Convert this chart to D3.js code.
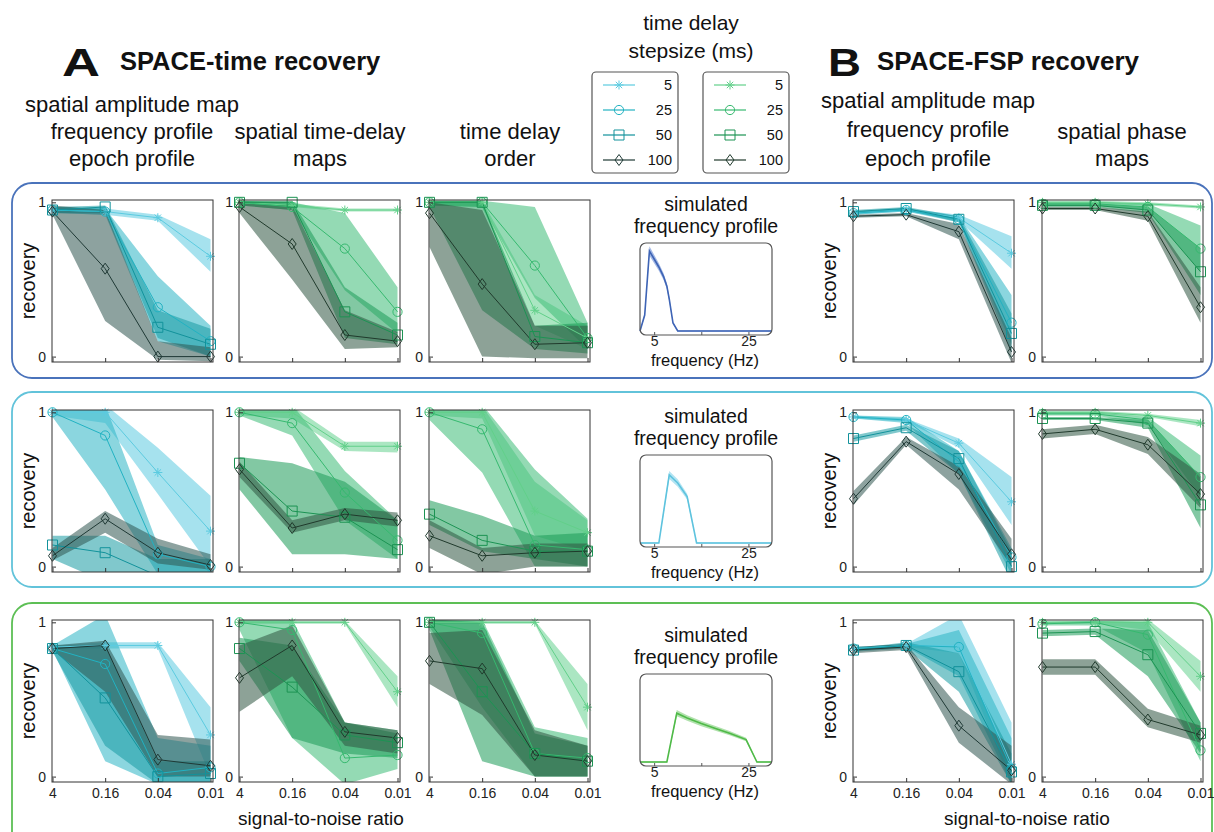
<!DOCTYPE html>
<html>
<head>
<meta charset="utf-8">
<script src="https://cdn.jsdelivr.net/npm/d3@7"></script>
<style>
  body { margin: 0; background: #fff; }
  svg { display: block; font-family: "Liberation Sans", Arial, sans-serif; }
</style>
</head>
<body>
<div id="chart"></div>
<script>
// x categories and legend
var snrLabels = ['4', '0.16', '0.04', '0.01'];
var stepsizes = ['5', '25', '50', '100'];
var markerTypes = ['asterisk', 'circle', 'square', 'diamond'];

var cyanLines = ['#5ccbe0', '#22b2c2', '#12929b', '#1f3935'];
var cyanFills = ['#5ccbe0', '#2bb5c4', '#189aa2', '#2f5550'];
var greenLines = ['#62d08a', '#36b96f', '#1c9353', '#203a2c'];
var greenFills = ['#66d18f', '#3dbb76', '#1c9a58', '#2f5542'];

// ---- condition 1 (blue box) ----
var amp1Mean = [[0.95, 0.94, 0.90, 0.65], [0.95, 0.94, 0.32, 0.10], [0.95, 0.97, 0.19, 0.08], [0.94, 0.57, 0.0, 0.0]];
var amp1Lo   = [[0.93, 0.92, 0.88, 0.55], [0.93, 0.92, 0.10, 0.0], [0.93, 0.93, 0.12, 0.0], [0.92, 0.23, -0.02, -0.03]];
var amp1Hi   = [[0.97, 0.96, 0.92, 0.76], [0.97, 0.96, 0.52, 0.20], [0.97, 0.98, 0.30, 0.18], [0.98, 0.95, 0.10, 0.06]];

var tdm1Mean = [[1.0, 0.98, 0.95, 0.95], [1.0, 0.97, 0.70, 0.29], [1.0, 1.0, 0.29, 0.14], [0.97, 0.73, 0.14, 0.10]];
var tdm1Lo   = [[0.99, 0.97, 0.94, 0.94], [0.98, 0.95, 0.43, 0.15], [0.98, 0.95, 0.12, 0.08], [0.93, 0.50, 0.05, 0.06]];
var tdm1Hi   = [[1.01, 0.99, 0.96, 0.96], [1.01, 1.0, 0.93, 0.45], [1.01, 1.01, 0.45, 0.22], [0.99, 0.98, 0.30, 0.16]];

var tdo1Mean = [[1.0, 1.0, 0.30, 0.12], [1.0, 1.0, 0.59, 0.12], [1.0, 1.0, 0.13, 0.09], [0.93, 0.47, 0.08, 0.09]];
var tdo1Lo   = [[0.98, 0.97, 0.20, 0.05], [0.98, 0.97, 0.38, 0.05], [0.97, 0.30, 0.05, 0.02], [0.71, 0.0, -0.01, -0.01]];
var tdo1Hi   = [[1.01, 1.01, 0.40, 0.20], [1.01, 1.01, 0.97, 0.22], [1.01, 1.01, 0.20, 0.22], [1.0, 0.95, 0.20, 0.20]];

var fsp1Mean = [[0.93, 0.95, 0.90, 0.67], [0.93, 0.95, 0.89, 0.22], [0.94, 0.96, 0.89, 0.15], [0.91, 0.92, 0.81, 0.03]];
var fsp1Lo   = [[0.92, 0.94, 0.88, 0.57], [0.92, 0.94, 0.87, 0.08], [0.93, 0.95, 0.87, 0.03], [0.90, 0.91, 0.76, -0.04]];
var fsp1Hi   = [[0.94, 0.96, 0.92, 0.78], [0.94, 0.96, 0.91, 0.40], [0.95, 0.97, 0.91, 0.28], [0.92, 0.93, 0.86, 0.12]];

var pha1Mean = [[1.0, 1.0, 0.99, 0.97], [0.99, 0.99, 0.97, 0.70], [0.98, 0.98, 0.95, 0.55], [0.96, 0.96, 0.91, 0.32]];
var pha1Lo   = [[0.99, 0.99, 0.98, 0.96], [0.98, 0.98, 0.95, 0.55], [0.97, 0.97, 0.93, 0.40], [0.95, 0.95, 0.88, 0.22]];
var pha1Hi   = [[1.01, 1.01, 1.0, 0.98], [1.0, 1.0, 0.99, 0.85], [0.99, 0.99, 0.97, 0.70], [0.97, 0.97, 0.94, 0.45]];

// ---- condition 2 (light blue box) ----
var amp2Mean = [[1.0, 1.0, 0.61, 0.23], [1.0, 0.85, 0.08, 0.0], [0.14, 0.09, -0.06, -0.06], [0.07, 0.31, 0.09, 0.01]];
var amp2Lo   = [[0.98, 0.93, 0.47, 0.0], [0.97, 0.50, -0.05, -0.05], [0.05, -0.1, -0.1, -0.1], [0.04, 0.22, 0.02, -0.02]];
var amp2Hi   = [[1.02, 1.05, 0.77, 0.46], [1.02, 1.05, 0.14, 0.05], [0.20, 0.20, 0.05, 0.05], [0.12, 0.36, 0.18, 0.08]];

var tdm2Mean = [[1.0, 1.0, 0.78, 0.78], [1.0, 0.93, 0.48, 0.17], [0.67, 0.36, 0.32, 0.11], [0.63, 0.25, 0.34, 0.30]];
var tdm2Lo   = [[0.98, 0.96, 0.75, 0.74], [0.98, 0.85, 0.30, 0.05], [0.50, 0.08, 0.08, 0.05], [0.58, 0.22, 0.30, 0.26]];
var tdm2Hi   = [[1.02, 1.04, 0.81, 0.81], [1.02, 1.05, 0.62, 0.30], [0.71, 0.67, 0.55, 0.30], [0.68, 0.30, 0.38, 0.35]];

var tdo2Mean = [[1.0, 1.0, 0.36, 0.22], [1.0, 0.89, 0.14, 0.11], [0.34, 0.17, 0.10, 0.10], [0.20, 0.07, 0.09, 0.10]];
var tdo2Lo   = [[0.98, 0.96, 0.20, 0.10], [0.95, 0.61, 0.0, 0.0], [0.27, 0.10, 0.05, 0.0], [0.12, -0.05, 0.0, 0.0]];
var tdo2Hi   = [[1.02, 1.04, 0.55, 0.30], [1.05, 1.05, 0.63, 0.31], [0.43, 0.33, 0.20, 0.22], [0.30, 0.12, 0.15, 0.15]];

var fsp2Mean = [[0.97, 0.95, 0.80, 0.42], [0.97, 0.95, 0.68, 0.06], [0.83, 0.90, 0.70, 0.0], [0.44, 0.81, 0.60, 0.08]];
var fsp2Lo   = [[0.96, 0.94, 0.77, 0.27], [0.96, 0.93, 0.60, -0.05], [0.81, 0.88, 0.60, -0.1], [0.40, 0.79, 0.50, 0.0]];
var fsp2Hi   = [[0.98, 0.96, 0.83, 0.58], [0.98, 0.97, 0.75, 0.12], [0.85, 0.92, 0.75, 0.10], [0.49, 0.84, 0.65, 0.18]];

var pha2Mean = [[1.0, 1.0, 0.98, 0.93], [0.99, 0.99, 0.95, 0.58], [0.96, 0.96, 0.93, 0.40], [0.86, 0.89, 0.79, 0.47]];
var pha2Lo   = [[0.99, 0.99, 0.97, 0.91], [0.98, 0.98, 0.92, 0.45], [0.95, 0.95, 0.90, 0.25], [0.83, 0.86, 0.73, 0.38]];
var pha2Hi   = [[1.01, 1.01, 0.99, 0.95], [1.0, 1.0, 0.97, 0.72], [0.97, 0.97, 0.95, 0.58], [0.89, 0.92, 0.84, 0.60]];

// ---- condition 3 (green box) ----
var amp3Mean = [[0.84, 0.85, 0.85, 0.27], [0.83, 0.73, 0.02, 0.06], [0.83, 0.51, 0.0, 0.02], [0.83, 0.85, 0.11, 0.07]];
var amp3Lo   = [[0.83, 0.83, 0.83, 0.0], [0.82, 0.10, -0.05, -0.05], [0.81, 0.20, -0.05, -0.05], [0.82, 0.55, 0.0, 0.0]];
var amp3Hi   = [[0.85, 0.87, 0.87, 0.45], [0.85, 1.05, 0.25, 0.20], [0.85, 0.85, 0.10, 0.10], [0.85, 0.88, 0.27, 0.24]];

var tdm3Mean = [[1.0, 1.0, 1.0, 0.55], [1.0, 0.95, 0.12, 0.14], [0.83, 0.58, 0.27, 0.22], [0.64, 0.85, 0.29, 0.25]];
var tdm3Lo   = [[0.99, 0.99, 0.99, 0.45], [0.95, 0.25, -0.05, 0.05], [0.75, 0.25, 0.15, 0.12], [0.42, 0.65, 0.20, 0.15]];
var tdm3Hi   = [[1.01, 1.01, 1.01, 0.65], [1.02, 1.02, 0.35, 0.30], [0.90, 0.85, 0.35, 0.28], [0.85, 0.98, 0.35, 0.30]];

var tdo3Mean = [[1.0, 1.0, 1.0, 0.45], [1.0, 0.93, 0.15, 0.12], [1.0, 0.55, 0.15, 0.10], [0.75, 0.70, 0.14, 0.10]];
var tdo3Lo   = [[0.99, 0.99, 0.99, 0.30], [0.97, 0.45, 0.0, 0.0], [0.95, 0.10, 0.0, 0.0], [0.60, 0.40, 0.0, 0.0]];
var tdo3Hi   = [[1.01, 1.01, 1.01, 0.60], [1.02, 1.02, 0.32, 0.25], [1.02, 1.0, 0.28, 0.20], [0.93, 0.95, 0.30, 0.20]];

var fsp3Mean = [[0.83, 0.85, 0.85, 0.08], [0.83, 0.85, 0.84, 0.05], [0.82, 0.85, 0.68, 0.03], [0.82, 0.84, 0.33, 0.04]];
var fsp3Lo   = [[0.82, 0.84, 0.80, -0.05], [0.82, 0.84, 0.65, -0.05], [0.81, 0.83, 0.55, -0.05], [0.80, 0.82, 0.22, -0.05]];
var fsp3Hi   = [[0.84, 0.86, 1.05, 0.35], [0.84, 0.86, 0.95, 0.25], [0.83, 0.87, 0.80, 0.15], [0.84, 0.86, 0.45, 0.20]];

var pha3Mean = [[1.0, 1.0, 1.0, 0.65], [0.99, 1.0, 0.92, 0.17], [0.93, 0.94, 0.79, 0.28], [0.71, 0.71, 0.37, 0.27]];
var pha3Lo   = [[0.99, 0.99, 0.95, 0.55], [0.98, 0.98, 0.80, 0.10], [0.91, 0.92, 0.65, 0.15], [0.66, 0.66, 0.32, 0.22]];
var pha3Hi   = [[1.01, 1.01, 1.02, 0.75], [1.0, 1.01, 1.0, 0.35], [0.95, 0.96, 0.95, 0.35], [0.76, 0.76, 0.44, 0.33]];

// simulated frequency profiles (Hz, amplitude)
var freq1 = [2, 3, 4, 5, 6, 7, 7.7, 8.2, 9, 10, 30];
var prof1 = [0.0, 0.2, 1.0, 0.90, 0.80, 0.68, 0.56, 0.40, 0.10, 0.0, 0.0];
var freq2 = [2, 6, 8.2, 10, 12, 14, 30];
var prof2 = [0.0, 0.0, 0.85, 0.75, 0.58, 0.0, 0.0];
var freq3 = [2, 7.7, 9.8, 12, 15, 18, 21, 24.5, 26.8, 30];
var prof3 = [0.0, 0.0, 0.61, 0.55, 0.48, 0.42, 0.36, 0.28, 0.0, 0.0];
var freqTicks = [5, 15, 25];
var freqTickLabels = ['5', '', '25'];

var svg = d3.select('#chart').append('svg').attr('width', 1214).attr('height', 832);

var colLeft = [52, 239, 429, 853, 1042];
var rowTop = [200, 410, 620];
var panelW = 161, panelH = 162;
var boxColors = ['#4a73bb', '#62c3da', '#5dbf55'];
var boxY = [[183, 378], [392, 587], [603, 870]];

// rounded boxes around each condition
boxY.forEach(function (b, i) {
    svg.append('rect')
        .attr('x', 12).attr('y', b[0])
        .attr('width', 1200).attr('height', b[1] - b[0])
        .attr('rx', 20)
        .attr('fill', 'none')
        .attr('stroke', boxColors[i])
        .attr('stroke-width', 1.8);
});

function markerPath(type) {
    if (type === 'asterisk') return 'M-4.5,0H4.5M0,-4.5V4.5M-3.2,-3.2L3.2,3.2M-3.2,3.2L3.2,-3.2';
    if (type === 'circle') return d3.symbol(d3.symbolCircle, Math.PI * 4.6 * 4.6)();
    if (type === 'square') return 'M-5,-5H5V5H-5Z';
    return 'M0,-5.5L4,0L0,5.5L-4,0Z';
}

function drawPanel(col, row, mean, lo, hi, lines, fills) {
    var g = svg.append('g')
        .attr('transform', 'translate(' + colLeft[col] + ',' + rowTop[row] + ')');
    var x = d3.scaleLinear().domain([0, 3]).range([0.5, 158.5]);
    var y = d3.scaleLinear().domain([-0.035, 1.015]).range([panelH, 0]);

    var clipId = 'clip' + row + col;
    g.append('clipPath').attr('id', clipId)
        .append('rect').attr('width', panelW).attr('height', panelH);
    var plot = g.append('g').attr('clip-path', 'url(#' + clipId + ')');

    var band = d3.area()
        .x(function (d, i) { return x(i); })
        .y0(function (d) { return y(d[0]); })
        .y1(function (d) { return y(d[1]); });
    var line = d3.line()
        .x(function (d, i) { return x(i); })
        .y(function (d) { return y(d); });

    // shaded ranges first
    for (var s = 0; s < 4; s++) {
        var pairs = lo[s].map(function (v, i) { return [v, hi[s][i]]; });
        plot.append('path')
            .attr('d', band(pairs))
            .attr('fill', fills[s])
            .attr('fill-opacity', 0.55);
    }
    // mean lines + markers
    for (var s = 0; s < 4; s++) {
        plot.append('path')
            .attr('d', line(mean[s]))
            .attr('fill', 'none')
            .attr('stroke', lines[s])
            .attr('stroke-width', 1);
        g.selectAll('.m' + s)
            .data(mean[s].map(function (v, i) { return [i, v]; })
                .filter(function (d) { return d[1] >= -0.035 && d[1] <= 1.015; }))
            .enter().append('path')
            .attr('transform', function (d) { return 'translate(' + x(d[0]) + ',' + y(d[1]) + ')'; })
            .attr('d', markerPath(markerTypes[s]))
            .attr('fill', 'none')
            .attr('stroke', lines[s])
            .attr('stroke-width', 1);
    }

    // axes
    var xAxis = d3.axisBottom(x).tickValues([0, 1, 2, 3])
        .tickSizeInner(-4).tickSizeOuter(0).tickPadding(6)
        .tickFormat(function (d) { return row === 2 ? snrLabels[d] : ''; });
    var gx = g.append('g').attr('transform', 'translate(0,' + panelH + ')').call(xAxis);
    var yAxis = d3.axisLeft(y).tickValues([0, 1])
        .tickSizeInner(-4).tickSizeOuter(0).tickPadding(6)
        .tickFormat(d3.format('d'));
    var gy = g.append('g').call(yAxis);
    [gx, gy].forEach(function (a) {
        a.select('.domain').remove();
        a.selectAll('line').attr('stroke', '#333');
        a.selectAll('text').attr('font-size', 14).attr('fill', '#222')
            .attr('font-family', '"Liberation Sans", Arial, sans-serif');
    });

    g.append('rect')
        .attr('width', panelW).attr('height', panelH)
        .attr('fill', 'none').attr('stroke', '#333').attr('stroke-width', 1);

    if (col === 0 || col === 3) {
        g.append('text')
            .attr('transform', 'translate(-17,' + panelH / 2 + ') rotate(-90)')
            .attr('text-anchor', 'middle')
            .attr('font-size', 20)
            .attr('fill', '#111')
            .text('recovery');
    }
}

var panelData = [
    [[amp1Mean, amp1Lo, amp1Hi], [tdm1Mean, tdm1Lo, tdm1Hi], [tdo1Mean, tdo1Lo, tdo1Hi], [fsp1Mean, fsp1Lo, fsp1Hi], [pha1Mean, pha1Lo, pha1Hi]],
    [[amp2Mean, amp2Lo, amp2Hi], [tdm2Mean, tdm2Lo, tdm2Hi], [tdo2Mean, tdo2Lo, tdo2Hi], [fsp2Mean, fsp2Lo, fsp2Hi], [pha2Mean, pha2Lo, pha2Hi]],
    [[amp3Mean, amp3Lo, amp3Hi], [tdm3Mean, tdm3Lo, tdm3Hi], [tdo3Mean, tdo3Lo, tdo3Hi], [fsp3Mean, fsp3Lo, fsp3Hi], [pha3Mean, pha3Lo, pha3Hi]]
];
var cyanCols = [0, 3];

panelData.forEach(function (rowData, r) {
    rowData.forEach(function (p, c) {
        var cyan = cyanCols.indexOf(c) >= 0;
        drawPanel(c, r, p[0], p[1], p[2], cyan ? cyanLines : greenLines, cyan ? cyanFills : greenFills);
    });
});

// simulated frequency profile insets
var insetTop = [243, 455, 674];
var insetLine = ['#3e64b5', '#5ec3de', '#4fba48'];
var insetFill = ['#7d9bdc', '#93d8ec', '#90d48a'];
var insetFreq = [freq1, freq2, freq3];
var insetProf = [prof1, prof2, prof3];

insetTop.forEach(function (top, r) {
    var w = 132, h = 92, left = 640;
    var g = svg.append('g').attr('transform', 'translate(' + left + ',' + top + ')');
    var xf = d3.scaleLinear().domain([2, 30]).range([0, w]);
    var yf = d3.scaleLinear().domain([-0.05, 1.1]).range([h, 0]);
    var pts = insetFreq[r].map(function (f, i) { return [f, insetProf[r][i]]; });

    g.append('path')
        .attr('d', d3.area()
            .x(function (d) { return xf(d[0]); })
            .y0(function (d) { return yf(d[1] - 0.05 * d[1] - 0.008); })
            .y1(function (d) { return yf(d[1] + 0.05 * d[1] + 0.008); })(pts))
        .attr('fill', insetFill[r]).attr('fill-opacity', 0.7);
    g.append('path')
        .attr('d', d3.line()
            .x(function (d) { return xf(d[0]); })
            .y(function (d) { return yf(d[1]); })(pts))
        .attr('fill', 'none').attr('stroke', insetLine[r]).attr('stroke-width', 1.6);

    var ax = d3.axisBottom(xf).tickValues(freqTicks)
        .tickSizeInner(-3).tickSizeOuter(0).tickPadding(1)
        .tickFormat(function (d, i) { return freqTickLabels[i]; });
    var ga = g.append('g').attr('transform', 'translate(0,' + h + ')').call(ax);
    ga.select('.domain').remove();
    ga.selectAll('line').attr('stroke', '#555');
    ga.selectAll('text').attr('font-size', 14).attr('fill', '#222')
        .attr('font-family', '"Liberation Sans", Arial, sans-serif');

    g.append('rect').attr('width', w).attr('height', h).attr('rx', 6)
        .attr('fill', 'none').attr('stroke', '#555').attr('stroke-width', 1.2);

    g.append('text').attr('x', w / 2).attr('y', -32).attr('text-anchor', 'middle')
        .attr('font-size', 19.5).attr('fill', '#111').text('simulated');
    g.append('text').attr('x', w / 2).attr('y', -10).attr('text-anchor', 'middle')
        .attr('font-size', 19.5).attr('fill', '#111').text('frequency profile');
    g.append('text').attr('x', w / 2 - 1).attr('y', h + 31).attr('text-anchor', 'middle')
        .attr('font-size', 16.5).attr('fill', '#111').text('frequency (Hz)');
});

// headings
function label(x, y, txt, size, weight, anchor) {
    return svg.append('text')
        .attr('x', x).attr('y', y)
        .attr('font-size', size)
        .attr('font-weight', weight || 'normal')
        .attr('text-anchor', anchor || 'start')
        .attr('fill', '#111')
        .text(txt);
}

label(62, 76, 'A', 38, 'bold').attr('textLength', 38).attr('lengthAdjust', 'spacingAndGlyphs');
label(120, 70, 'SPACE-time recovery', 25.5, 'bold');
label(828, 76, 'B', 38, 'bold').attr('textLength', 33).attr('lengthAdjust', 'spacingAndGlyphs');
label(877, 70, 'SPACE-FSP recovery', 26, 'bold');

label(132, 112, 'spatial amplitude map', 22, null, 'middle');
label(132, 139, 'frequency profile', 22, null, 'middle');
label(132, 166, 'epoch profile', 22, null, 'middle');
label(320, 139, 'spatial time-delay', 22, null, 'middle');
label(320, 166, 'maps', 22, null, 'middle');
label(510, 139, 'time delay', 22, null, 'middle');
label(510, 166, 'order', 22, null, 'middle');

label(928, 108, 'spatial amplitude map', 22, null, 'middle');
label(928, 137, 'frequency profile', 22, null, 'middle');
label(928, 166, 'epoch profile', 22, null, 'middle');
label(1122, 139, 'spatial phase', 22, null, 'middle');
label(1122, 166, 'maps', 22, null, 'middle');

label(321, 825, 'signal-to-noise ratio', 19, null, 'middle');
label(1027, 825, 'signal-to-noise ratio', 19, null, 'middle');

// legend
label(691, 30, 'time delay', 21, null, 'middle');
label(691, 58, 'stepsize (ms)', 21, null, 'middle');

var legendRowY = [85, 110, 135, 160];
[[592, cyanLines], [703, greenLines]].forEach(function (lg) {
    var bx = lg[0], cols = lg[1];
    svg.append('rect').attr('x', bx).attr('y', 72).attr('width', 86).attr('height', 101)
        .attr('rx', 4).attr('fill', 'none').attr('stroke', '#555').attr('stroke-width', 1.2);
    stepsizes.forEach(function (s, i) {
        var ly = legendRowY[i];
        svg.append('line').attr('x1', bx + 11).attr('x2', bx + 43).attr('y1', ly).attr('y2', ly)
            .attr('stroke', cols[i]).attr('stroke-width', 1.2);
        svg.append('path').attr('transform', 'translate(' + (bx + 27) + ',' + ly + ')')
            .attr('d', markerPath(markerTypes[i]))
            .attr('fill', 'none').attr('stroke', cols[i]).attr('stroke-width', 1);
        label(bx + 80, ly + 5, s, 14.5, null, 'end');
    });
});
</script>
</body>
</html>
